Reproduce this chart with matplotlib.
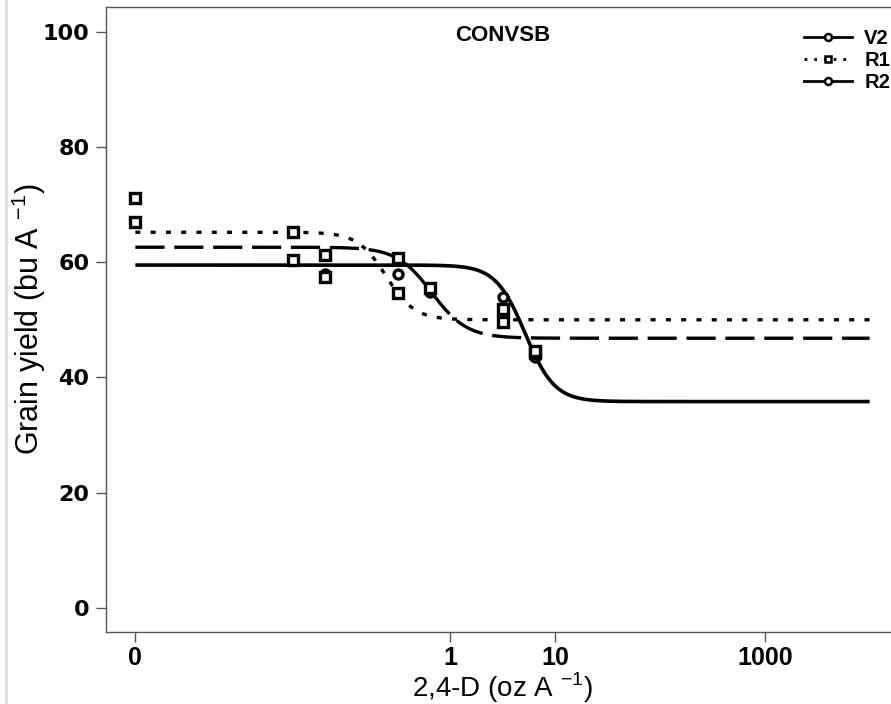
import numpy as np
import matplotlib
matplotlib.use('Agg')
import matplotlib.pyplot as plt
from matplotlib.lines import Line2D

plt.rcParams['font.family'] = ['Liberation Sans', 'DejaVu Sans']
plt.rcParams['lines.scale_dashes'] = False

# doses (oz/A); the 0 dose is drawn at 0.001 on the log axis
doses = [0.001, 0.032, 0.064, 0.32, 0.64, 3.2, 6.4]

# mean yields (None = not shown)
v2_yield = [None, None, 58.0, 57.9, 54.8, 54.0, 43.6]
r1_yield = [66.9, 65.3, 61.2, 54.6, None, 49.6, 44.2]
r2_yield = [71.2, 60.3, 57.5, 60.7, 55.6, 51.8, 44.6]

# log-logistic fit parameters  [b (slope), c (lower), d (upper), e (ED50)]
v2_fit = [3.1, 35.8, 59.5, 5.2]
r1_fit = [3.2, 50.0, 65.2, 0.245]
r2_fit = [2.6, 46.8, 62.6, 0.67]

labels = ['V2', 'R1', 'R2']
xticks = [0.001, 1, 10, 1000]
xticklabels = ['0', '1', '10', '1000']
yticks = [0, 20, 40, 60, 80, 100]


def ll4(x, p):
    b, c, d, e = p
    return c + (d - c) / (1 + np.exp(b * (np.log(x) - np.log(e))))


dotted = (0, (3.6, 7.4))
dashed = (0, (21, 7))

fig = plt.figure(figsize=(8.91, 7.04), dpi=100)
ax = fig.add_axes([106 / 891, 1 - 632 / 704, 793 / 891, 625 / 704])

xx = np.logspace(-3, 4, 500)
ax.plot(xx, ll4(xx, v2_fit), color='black', lw=2.6, solid_capstyle='butt')
ax.plot(xx, ll4(xx, r1_fit), color='black', lw=2.4, ls=dotted, dash_capstyle='butt')
ax.plot(xx, ll4(xx, r2_fit), color='black', lw=2.4, ls=dashed, dash_capstyle='butt')

def pts(ys):
    xs = [d for d, y in zip(doses, ys) if y is not None]
    return xs, [y for y in ys if y is not None]

for ys, mk in [(v2_yield, 'o'), (r1_yield, 's'), (r2_yield, 's')]:
    xs, yv = pts(ys)
    ax.plot(xs, yv, ls='none', marker=mk, ms=6.5, mew=2.4,
            mfc='white', mec='black')

ax.set_xscale('log')
ax.set_xlim(10 ** -3.28, 10 ** 4.28)
ax.set_ylim(-4.2, 104.3)
ax.set_xticks(xticks)
ax.set_xticklabels(xticklabels)
ax.minorticks_off()
ax.set_yticks(yticks)
ax.tick_params(direction='out', length=7, width=1, color='#555555', pad=5)
ax.tick_params(axis='x', pad=3)
for lab in ax.get_xticklabels():
    lab.set_fontweight('bold')
    lab.set_fontsize(18)
for lab in ax.get_yticklabels():
    lab.set_fontweight('bold')
    lab.set_fontsize(16)
    lab.set_family('DejaVu Sans')
for s in ax.spines.values():
    s.set_color('#555555')
    s.set_linewidth(1)

ax.set_xlabel(r'2,4-D (oz A $^{\mathregular{-1}}$)', fontsize=20)
ax.xaxis.set_label_coords(0.5, -0.062)
ax.set_ylabel(r'Grain yield (bu A $^{\mathregular{-1}}$)', fontsize=22)
ax.yaxis.set_label_coords(-0.073, 0.5)
ax.text(0.5, 0.955, 'CONVSB', transform=ax.transAxes, ha='center', va='center',
        fontsize=16, fontweight='bold')

handles = [Line2D([], [], color='black', lw=2, marker='o', ms=5, mew=1.8, mfc='white'),
           Line2D([], [], color='black', lw=2, ls=(0, (2, 5)), marker='s', ms=5, mew=1.8, mfc='white'),
           Line2D([], [], color='black', lw=2, marker='o', ms=5, mew=1.8, mfc='white')]
leg = ax.legend(handles, labels, loc='upper right', frameon=False,
                bbox_to_anchor=(890 / 891, 1 - 29 / 704), bbox_transform=fig.transFigure,
                handlelength=2.4, handletextpad=0.6, labelspacing=0.15,
                borderpad=0, borderaxespad=0,
                prop={'size': 14.5, 'weight': 'bold'})

# grey frame line at left edge of picture
fig.add_artist(Line2D([6 / 891, 6 / 891], [0, 1], transform=fig.transFigure,
                      color='#dddddd', lw=2))

fig.savefig('out.png', dpi=100)
